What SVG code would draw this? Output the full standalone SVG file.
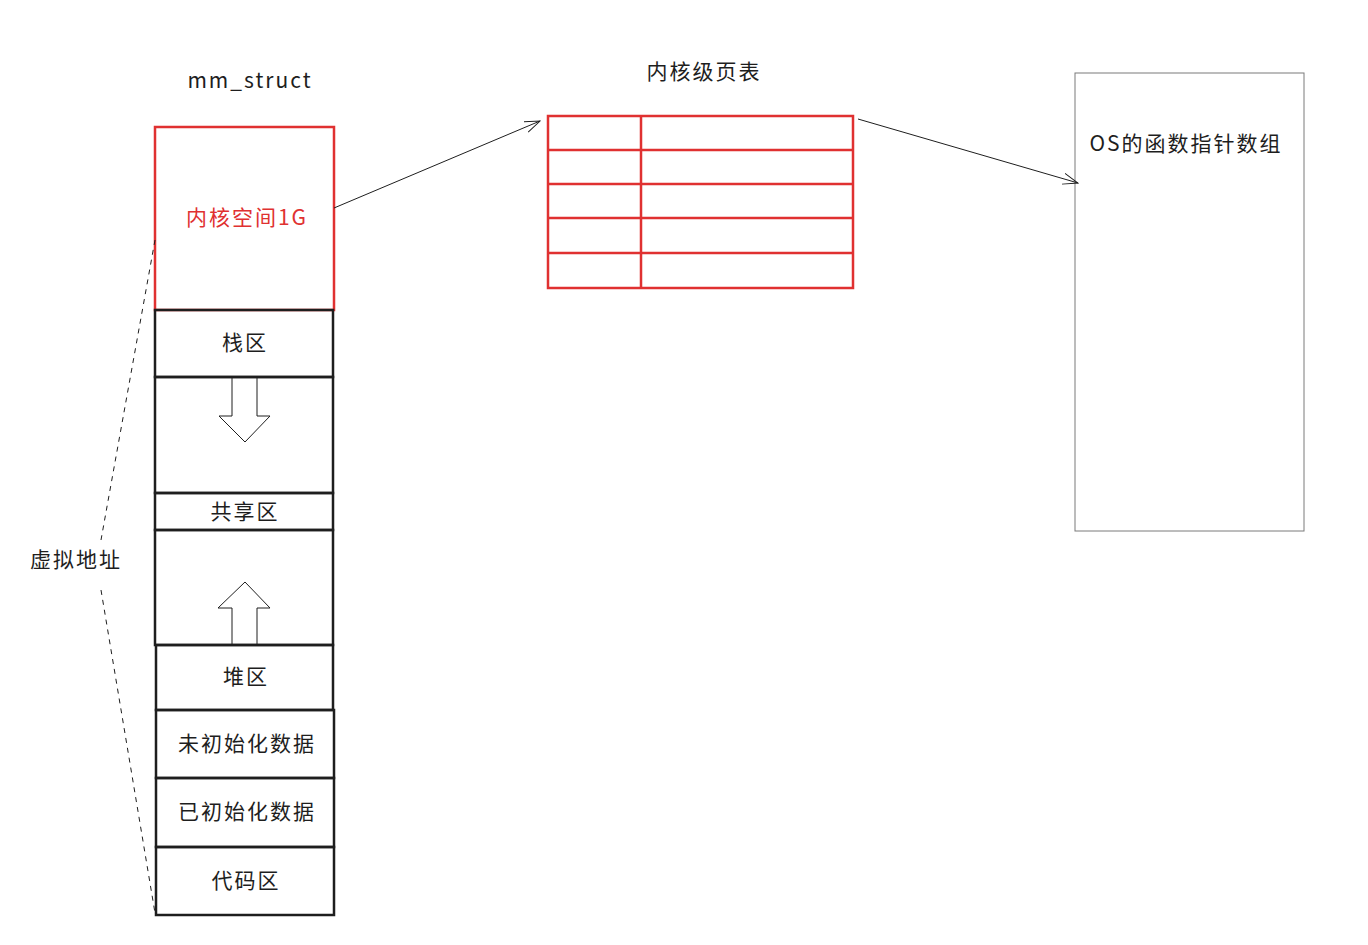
<svg xmlns="http://www.w3.org/2000/svg" width="1368" height="945" viewBox="0 0 1368 945">
<defs>
<style>
.t{font-family:"Noto Sans CJK SC","Noto Sans",sans-serif;font-size:21px;letter-spacing:2px;fill:#1e1e1e;text-anchor:middle;dominant-baseline:central}
.red{fill:#e03131}
.blk{fill:none;stroke:#1e1e1e;stroke-width:2.5}
.rbox{fill:none;stroke:#e03131;stroke-width:2.5}
.thin{fill:none;stroke:#1e1e1e;stroke-width:1}
.dash{fill:none;stroke:#1e1e1e;stroke-width:1;stroke-dasharray:5 5}
.gbox{fill:none;stroke:#7a7a7a;stroke-width:1}
</style>
<marker id="ah" viewBox="0 0 20 20" refX="19" refY="10" markerWidth="16" markerHeight="16" markerUnits="userSpaceOnUse" orient="auto">
<path d="M0,3 L19,10 L0,17" fill="none" stroke="#1e1e1e" stroke-width="1.2"/>
</marker>
</defs>
<rect width="1368" height="945" fill="#fff"/>

<text class="t" x="250" y="79">mm_struct</text>
<text class="t" x="704" y="70">内核级页表</text>
<text class="t" x="76" y="558">虚拟地址</text>

<g id="kernel">
<rect class="rbox" x="155" y="127" width="179" height="183"/>
<text class="t red" x="247" y="216">内核空间1G</text>
</g>
<g id="stack">
<rect class="blk" x="155" y="310" width="178" height="67"/>
<text class="t" x="245" y="341">栈区</text>
</g>
<g id="stack-grow">
<rect class="blk" x="155" y="377" width="178" height="116"/>
<path class="thin" d="M232,377 L232,416 L219,416 L245,442 L270,416 L257,416 L257,377"/>
</g>
<g id="shared">
<rect class="blk" x="155" y="493" width="178" height="37"/>
<text class="t" x="245" y="510">共享区</text>
</g>
<g id="heap-grow">
<rect class="blk" x="155" y="530" width="178" height="115"/>
<path class="thin" d="M232,645 L232,608 L218,608 L245,582 L270,608 L257,608 L257,645"/>
</g>
<g id="heap">
<rect class="blk" x="156" y="645" width="177" height="65"/>
<text class="t" x="246" y="675">堆区</text>
</g>
<g id="bss">
<rect class="blk" x="156" y="710" width="178" height="68"/>
<text class="t" x="247" y="742">未初始化数据</text>
</g>
<g id="data">
<rect class="blk" x="156" y="778" width="178" height="69"/>
<text class="t" x="247" y="810">已初始化数据</text>
</g>
<g id="text-seg">
<rect class="blk" x="156" y="847" width="178" height="68"/>
<text class="t" x="246" y="879">代码区</text>
</g>

<g id="page-table">
<rect class="rbox" x="548" y="116" width="305" height="172"/>
<path class="rbox" d="M548,150 H853 M548,184 H853 M548,218 H853 M548,253 H853 M641,116 V288"/>
</g>

<g id="os-array">
<rect class="gbox" x="1075" y="73" width="229" height="458"/>
<text class="t" x="1186" y="142">OS的函数指针数组</text>
</g>

<g id="connectors">
<path class="thin" d="M334,208 L540,121" marker-end="url(#ah)"/>
<path class="thin" d="M858,119 L1078,183" marker-end="url(#ah)"/>
<path class="dash" d="M155,240 L101,540"/>
<path class="dash" d="M101,590 L155,913"/>
</g>
</svg>
